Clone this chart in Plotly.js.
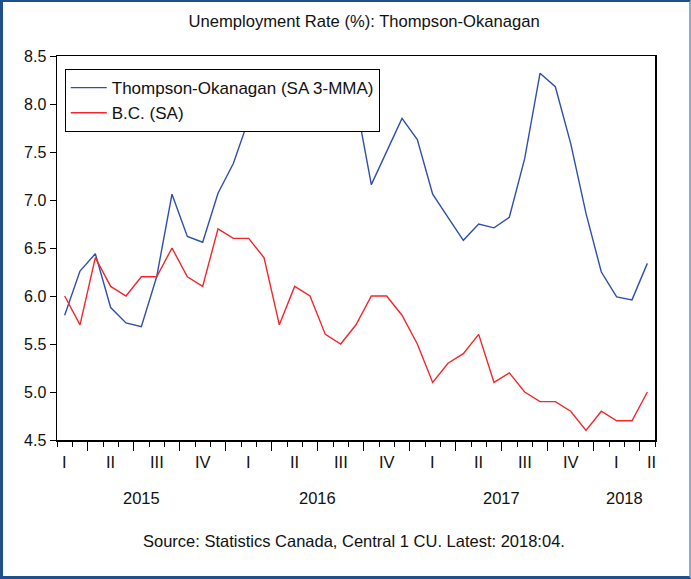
<!DOCTYPE html>
<html>
<head>
<meta charset="utf-8">
<script src="https://cdn.plot.ly/plotly-3.0.1.min.js"></script>
<style>
  html, body { margin: 0; padding: 0; background: #ffffff; }
  #wrap { position: relative; width: 691px; height: 579px; }
  #chart { position: absolute; left: 0; top: 0; width: 691px; height: 579px; }
  #frame { position: absolute; left: 0; top: 0; width: 691px; height: 579px; box-sizing: border-box;
           border-left: 3px solid #1f4f8f; border-top: 2px solid #1f4f8f; border-bottom: 3px solid #1f4f8f;
           border-right: 2px solid #8ea9cf; pointer-events: none; }
</style>
</head>
<body>
<div id="wrap">
  <div id="chart"></div>
  <div id="frame"></div>
</div>
<script>
// Monthly observations, Feb 2015 .. Apr 2018
const months = [
  "2015-02","2015-03","2015-04","2015-05","2015-06","2015-07","2015-08","2015-09","2015-10","2015-11","2015-12",
  "2016-01","2016-02","2016-03","2016-04","2016-05","2016-06","2016-07","2016-08","2016-09","2016-10","2016-11","2016-12",
  "2017-01","2017-02","2017-03","2017-04","2017-05","2017-06","2017-07","2017-08","2017-09","2017-10","2017-11","2017-12",
  "2018-01","2018-02","2018-03","2018-04"
];
const thompsonOkanagan = [
  5.80, 6.26, 6.44, 5.88, 5.72, 5.68, 6.20, 7.06, 6.62, 6.56, 7.07,
  7.38, 7.84, 7.95, 7.81, 8.05, 8.20, 8.30, 8.15, 8.02, 7.16, 7.50,
  7.85, 7.63, 7.06, 6.82, 6.58, 6.75, 6.71, 6.82, 7.43, 8.32, 8.18,
  7.59, 6.86, 6.25, 5.99, 5.96, 6.34
];
const britishColumbia = [
  6.0, 5.7, 6.4, 6.1, 6.0, 6.2, 6.2, 6.5, 6.2, 6.1, 6.7,
  6.6, 6.6, 6.4, 5.7, 6.1, 6.0, 5.6, 5.5, 5.7, 6.0, 6.0,
  5.8, 5.5, 5.1, 5.3, 5.4, 5.6, 5.1, 5.2, 5.0, 4.9, 4.9,
  4.8, 4.6, 4.8, 4.7, 4.7, 5.0
];
const seriesNames = ["Thompson-Okanagan (SA 3-MMA)", "B.C. (SA)"];
const quarterLabels = ["I", "II", "III", "IV"];
const years = [2015, 2016, 2017, 2018];
const titleText = "Unemployment Rate (%): Thompson-Okanagan";
const sourceText = "Source: Statistics Canada, Central 1 CU. Latest: 2018:04.";

// month index: Jan 2015 = 0
function idx(s) { const p = s.split("-"); return (+p[0] - 2015) * 12 + (+p[1] - 1); }
const xs = months.map(idx);
const xMin = xs[0] - 0.5, xMax = xs[xs.length - 1] + 0.5;

const font = "Liberation Sans, Arial, sans-serif";

const traces = [
  { x: xs, y: thompsonOkanagan, name: seriesNames[0], type: "scatter", mode: "lines",
    line: { color: "#2f4fae", width: 1.4 } },
  { x: xs, y: britishColumbia, name: seriesNames[1], type: "scatter", mode: "lines",
    line: { color: "#f2262b", width: 1.4 } }
];

// quarter boundaries (major ticks) and labels
const majorTicks = [];
for (let b = -0.5; b <= xMax + 1e-9; b += 3) if (b > xMin + 1e-9) majorTicks.push(b);

const annotations = [];
years.forEach(yr => {
  quarterLabels.forEach((q, qi) => {
    const start = (yr - 2015) * 12 + qi * 3 - 0.5, end = start + 3;
    if (end <= xMin || start >= xMax) return;
    let c = start + 1.5;
    if (c > xMax - 0.2) c = xMax - 0.2;
    annotations.push({ x: c, y: -0.057, xref: "x", yref: "paper", text: q, showarrow: false,
      yanchor: "middle", font: { family: font, size: 16.5, color: "#111" } });
  });
  const ys = Math.max((yr - 2015) * 12 - 0.5, xMin), ye = Math.min((yr - 2015) * 12 + 11.5, xMax);
  annotations.push({ x: (ys + ye) / 2, y: -0.15, xref: "x", yref: "paper", text: String(yr), showarrow: false,
    yanchor: "middle", font: { family: font, size: 16.5, color: "#111" } });
});
annotations.push({ x: 0.496, y: -0.263, xref: "paper", yref: "paper", text: sourceText, showarrow: false,
  yanchor: "middle", font: { family: font, size: 16.5, color: "#111" } });

const layout = {
  width: 691, height: 579,
  margin: { l: 57, r: 36, t: 56, b: 139 },
  paper_bgcolor: "#ffffff", plot_bgcolor: "#ffffff",
  font: { family: font, size: 16, color: "#111" },
  title: { text: titleText, xref: "container", yref: "container", x: 0.527, y: 1 - 21 / 579,
    xanchor: "center", yanchor: "middle", font: { family: font, size: 16.6, color: "#111" } },
  showlegend: true,
  legend: { x: 0.013, y: 0.966, xanchor: "left", yanchor: "top", bgcolor: "#ffffff",
    bordercolor: "#000", borderwidth: 1, font: { family: font, size: 17, color: "#111" },
    tracegroupgap: 0, itemwidth: 36 },
  xaxis: {
    range: [xMin, xMax], showgrid: false, zeroline: false,
    showline: true, linecolor: "#000", linewidth: 1.5, mirror: true,
    tickmode: "array", tickvals: majorTicks, ticktext: majorTicks.map(() => ""),
    ticks: "outside", ticklen: 9, tickcolor: "#000", tickwidth: 1.3,
    minor: { tickmode: "linear", tick0: 0.5, dtick: 1, ticks: "outside", ticklen: 5, tickcolor: "#000", tickwidth: 1, showgrid: false }
  },
  yaxis: {
    range: [4.5, 8.5], dtick: 0.5, tick0: 4.5, tickformat: ".1f", showgrid: false, zeroline: false,
    showline: true, linecolor: "#000", linewidth: 1.5, mirror: true,
    ticks: "outside", ticklen: 6, tickcolor: "#000", tickwidth: 1,
    tickfont: { family: font, size: 16, color: "#111" }
  },
  annotations: annotations
};

Plotly.newPlot("chart", traces, layout, { staticPlot: true, displayModeBar: false });
</script>
</body>
</html>
